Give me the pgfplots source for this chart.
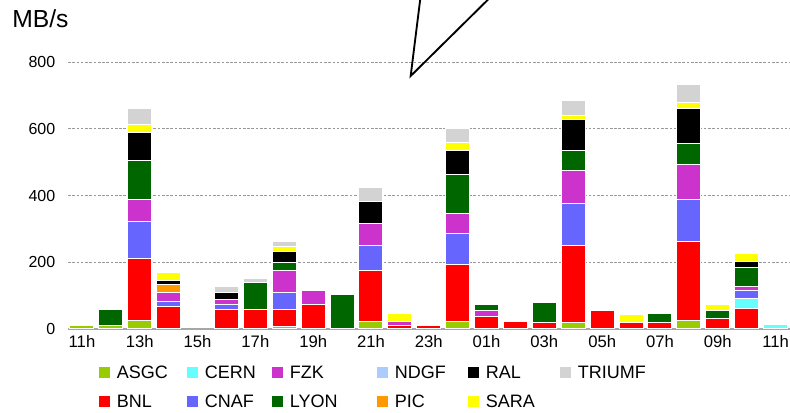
\documentclass[border=0pt]{standalone}
\usepackage{fontspec}
\setmainfont{Liberation Sans}
\usepackage{pgfplots}
\pgfplotsset{compat=1.18}
\usepackage{pgfplotstable}

% site colours
\definecolor{ASGC}{RGB}{153,204,0}
\definecolor{BNL}{RGB}{255,0,0}
\definecolor{CERN}{RGB}{102,255,255}
\definecolor{CNAF}{RGB}{102,102,255}
\definecolor{FZK}{RGB}{204,51,204}
\definecolor{LYON}{RGB}{0,102,0}
\definecolor{NDGF}{RGB}{170,204,255}
\definecolor{PIC}{RGB}{255,153,0}
\definecolor{RAL}{RGB}{0,0,0}
\definecolor{SARA}{RGB}{255,255,0}
\definecolor{TRIUMF}{RGB}{211,211,211}

% hourly throughput per site, MB/s (i = hours after 11h)
\pgfplotstableread{
i  ASGC BNL CERN CNAF FZK LYON NDGF PIC RAL SARA TRIUMF
0  9    0   0    0    0   0    0    0   0   0    0
1  10   0   0    0    0   47   0    0   0   0    0
2  26   184 0    113  64  118  0    0   84  25   46
3  0    67  0    15   28  0    0    23  13  22   0
4  0    0   0    0    0   0    0    0   0   0    0
5  0    57  0    17   13  0    0    0   23  0    16
6  0    57  0    0    0   82   0    0   0   0    11
7  8    49  0    53   65  23   0    0   35  14   15
8  0    74  0    0    41  0    0    0   0   0    0
9  0    0   0    0    0   103  0    0   0   0    0
10 21   154 0    76   65  0    0    0   66  0    42
11 0    10  0    0    11  0    0    0   0   24   0
12 0    10  0    0    0   0    0    0   0   0    0
13 21   171 0    95   59  118  0    0   71  25   41
14 0    37  0    0    18  19   0    0   0   0    0
15 0    21  0    0    0   0    0    0   0   0    0
16 0    20  0    0    0   58   0    0   0   0    0
17 19   232 0    124  101 59   0    0   92  12   47
18 0    55  0    0    0   0    0    0   0   0    0
19 0    19  0    0    0   0    0    0   0   23   0
20 0    19  0    0    0   28   0    0   0   0    0
21 24   239 0    124  106 64   0    0   104 18   54
22 0    31  0    0    0   23   0    0   0   18   0
23 0    60  30   24   12  59   0    0   18  24   0
24 0    0   13   0    0   0    0    0   0   0    0
}\transfers

\begin{document}
\begin{tikzpicture}
\useasboundingbox (-51pt,-63pt) rectangle (541.5pt,246.75pt);
\begin{axis}[
  at={(0pt,0pt)}, anchor=south west,
  scale only axis, width=541.5pt, height=200.25pt,
  xmin=-0.484, xmax=24.5, ymin=0, ymax=800,
  ybar stacked, bar width=0.83,
  axis x line*=bottom, axis y line*=left,
  x axis line style={-, draw=black!35, line width=1.5pt},
  y axis line style={draw=none},
  xtick={0,2,...,24},
  xticklabels={11h,13h,15h,17h,19h,21h,23h,01h,03h,05h,07h,09h,11h},
  ytick={0,200,400,600,800},
  major tick length=0pt,
  ymajorgrids,
  grid style={dash pattern=on 2pt off 1.2pt, draw=black!40, line width=0.6pt},
  xticklabel style={font=\fontsize{12.5}{15}\selectfont, yshift=-1pt},
  yticklabel style={font=\fontsize{12}{14}\selectfont, xshift=-6pt},
  /pgf/number format/assume math mode=true,
  every axis plot/.append style={draw=white, line width=0.75pt},
  legend columns=6,
  legend image code/.code={\fill[#1, draw=none] (0pt,-4.1pt) rectangle (8.25pt,4.1pt);},
  legend style={at={(0.042,-0.137)}, anchor=north west, draw=none, fill=none,
    inner sep=0pt, column sep=0pt, row sep=12.5pt,
    nodes={inner sep=0pt, text depth=0pt},
    cells={anchor=west},
    font=\fontsize{13.5}{16}\selectfont},
]
\addplot[fill=ASGC, forget plot]   table[x=i, y=ASGC]   {\transfers};
\addplot[fill=BNL, forget plot]    table[x=i, y=BNL]    {\transfers};
\addplot[fill=CERN, forget plot]   table[x=i, y=CERN]   {\transfers};
\addplot[fill=CNAF, forget plot]   table[x=i, y=CNAF]   {\transfers};
\addplot[fill=FZK, forget plot]    table[x=i, y=FZK]    {\transfers};
\addplot[fill=LYON, forget plot]   table[x=i, y=LYON]   {\transfers};
\addplot[fill=NDGF, forget plot]   table[x=i, y=NDGF]   {\transfers};
\addplot[fill=PIC, forget plot]    table[x=i, y=PIC]    {\transfers};
\addplot[fill=RAL, forget plot]    table[x=i, y=RAL]    {\transfers};
\addplot[fill=SARA, forget plot]   table[x=i, y=SARA]   {\transfers};
\addplot[fill=TRIUMF, forget plot] table[x=i, y=TRIUMF] {\transfers};

% legend laid out in two rows
\addlegendimage{fill=ASGC}   \addlegendentry{\makebox[57.75pt][l]{\hspace{5.5pt}ASGC}}
\addlegendimage{fill=CERN}   \addlegendentry{\makebox[55.5pt][l]{\hspace{5.5pt}CERN}}
\addlegendimage{fill=FZK}    \addlegendentry{\makebox[70.5pt][l]{\hspace{5.5pt}FZK}}
\addlegendimage{fill=NDGF}   \addlegendentry{\makebox[60pt][l]{\hspace{5.5pt}NDGF}}
\addlegendimage{fill=RAL}    \addlegendentry{\makebox[60.75pt][l]{\hspace{5.5pt}RAL}}
\addlegendimage{fill=TRIUMF} \addlegendentry{\makebox[60pt][l]{\hspace{5.5pt}TRIUMF}}
\addlegendimage{fill=BNL}    \addlegendentry{\makebox[57.75pt][l]{\hspace{5.5pt}BNL}}
\addlegendimage{fill=CNAF}   \addlegendentry{\makebox[55.5pt][l]{\hspace{5.5pt}CNAF}}
\addlegendimage{fill=LYON}   \addlegendentry{\makebox[70.5pt][l]{\hspace{5.5pt}LYON}}
\addlegendimage{fill=PIC}    \addlegendentry{\makebox[60pt][l]{\hspace{5.5pt}PIC}}
\addlegendimage{fill=SARA}   \addlegendentry{\makebox[60.75pt][l]{\hspace{5.5pt}SARA}}

% baseline redrawn over the bar outlines
\draw[black!35, line width=1.5pt] (rel axis cs:0,0) -- (rel axis cs:1,0);
\end{axis}
\node[anchor=base west, inner sep=0pt, font=\fontsize{18.5}{22}\selectfont] at (-42pt,225.75pt) {MB/s};
\draw[line width=1.4pt] (264.5pt,250pt) -- (257pt,189.75pt) -- (318pt,250pt);
\end{tikzpicture}
\end{document}
